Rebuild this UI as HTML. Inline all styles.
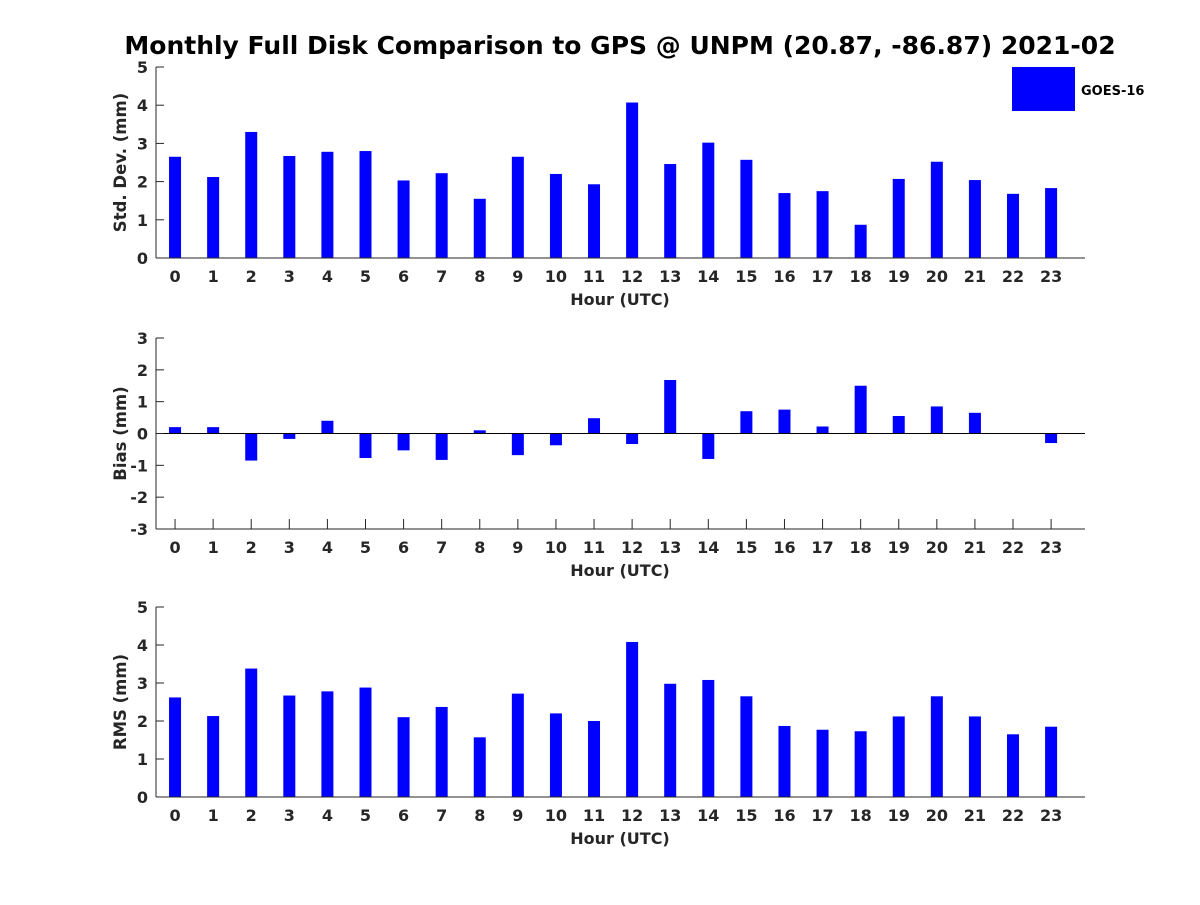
<!DOCTYPE html>
<html><head><meta charset="utf-8"><style>
body{margin:0;background:#fff;}
svg text{font-family:"DejaVu Sans","Liberation Sans",sans-serif;font-weight:bold;fill:#262626;}
</style></head><body>
<svg id="chart" width="1200" height="900" xmlns="http://www.w3.org/2000/svg">
<rect width="1200" height="900" fill="#fff"/>
<text x="620" y="54" text-anchor="middle" font-size="25" style="fill:#000">Monthly Full Disk Comparison to GPS @ UNPM (20.87, -86.87) 2021-02</text>
<rect x="1012" y="67" width="63" height="44" fill="#0000ff"/>
<text x="1081" y="95" font-size="13" style="fill:#000">GOES-16</text>
</svg>
<script>
const hours = [0,1,2,3,4,5,6,7,8,9,10,11,12,13,14,15,16,17,18,19,20,21,22,23];
const stdValues = [2.65,2.12,3.3,2.67,2.78,2.8,2.03,2.22,1.55,2.65,2.2,1.93,4.07,2.46,3.02,2.57,1.7,1.75,0.87,2.07,2.52,2.04,1.68,1.83];
const biasValues = [0.2,0.2,-0.85,-0.17,0.4,-0.77,-0.53,-0.83,0.1,-0.68,-0.37,0.48,-0.33,1.68,-0.8,0.7,0.75,0.22,1.5,0.55,0.85,0.65,0,-0.3];
const rmsValues = [2.62,2.13,3.38,2.67,2.78,2.88,2.1,2.37,1.57,2.72,2.2,2.0,4.08,2.98,3.08,2.65,1.87,1.77,1.73,2.12,2.65,2.12,1.65,1.85];
const stdTicks = [0,1,2,3,4,5];
const biasTicks = [-3,-2,-1,0,1,2,3];
const rmsTicks = [0,1,2,3,4,5];

const svg = document.getElementById('chart');
const NS = 'http://www.w3.org/2000/svg';
function mk(tag, attrs, parent){const e=document.createElementNS(NS,tag);for(const k in attrs)e.setAttribute(k,attrs[k]);(parent||svg).appendChild(e);return e;}
const X0=156, X1=1085, XMIN=-0.5, XMAX=23.89;
function xs(v){return X0+(v-XMIN)/(XMAX-XMIN)*(X1-X0);}

function panel(name, top, bottom, ymin, ymax, ticks, values, ylabel){
  const g = mk('g',{});
  
  
  const ys = v => bottom-(v-ymin)/(ymax-ymin)*(bottom-top);
  hours.forEach(h=>{
    const x=xs(h);
    mk('line',{x1:x,x2:x,y1:bottom,y2:bottom-10,stroke:'#262626'},g);
    const tx=mk('text',{x:x,y:bottom+24,'text-anchor':'middle','font-size':16},g);
    tx.textContent=h;
    
    
  });
  values.forEach((v,i)=>{
    const y0=ys(0), y1=ys(v);
    const r=mk('rect',{x:xs(hours[i])-6,y:Math.min(y0,y1),width:12,height:Math.max(Math.abs(y1-y0),0.01),fill:'#0000ff'},g);
    
    
  });
  if(ymin<0){const l=mk('line',{x1:X0,x2:X1,y1:ys(0),y2:ys(0),stroke:'#000','stroke-width':1},g);
    
    }
  mk('line',{x1:X0,x2:X0,y1:top,y2:bottom,stroke:'#262626','stroke-width':1},g);
  mk('line',{x1:X0,x2:X1,y1:bottom,y2:bottom,stroke:'#262626','stroke-width':1},g);
  ticks.forEach(t=>{
    const y=ys(t);
    mk('line',{x1:X0,x2:X0+8,y1:y,y2:y,stroke:'#262626'},g);
    const tx=mk('text',{x:X0-8,y:y+6,'text-anchor':'end','font-size':16},g);
    tx.textContent=t;
    
    
  });
  const xl=mk('text',{x:620,y:bottom+47,'text-anchor':'middle','font-size':16},g);
  xl.textContent='Hour (UTC)';
  
  
  const cy=(top+bottom)/2;
  const yl=mk('text',{x:126,y:cy,'text-anchor':'middle','font-size':16.5,transform:'rotate(-90 126 '+cy+')'},g);
  yl.textContent=ylabel;
  
  
}
panel('std-dev',67,258,0,5,stdTicks,stdValues,'Std. Dev. (mm)');
panel('bias',338,529,-3,3,biasTicks,biasValues,'Bias (mm)');
panel('rms',607,797,0,5,rmsTicks,rmsValues,'RMS (mm)');
</script>
</body></html>
